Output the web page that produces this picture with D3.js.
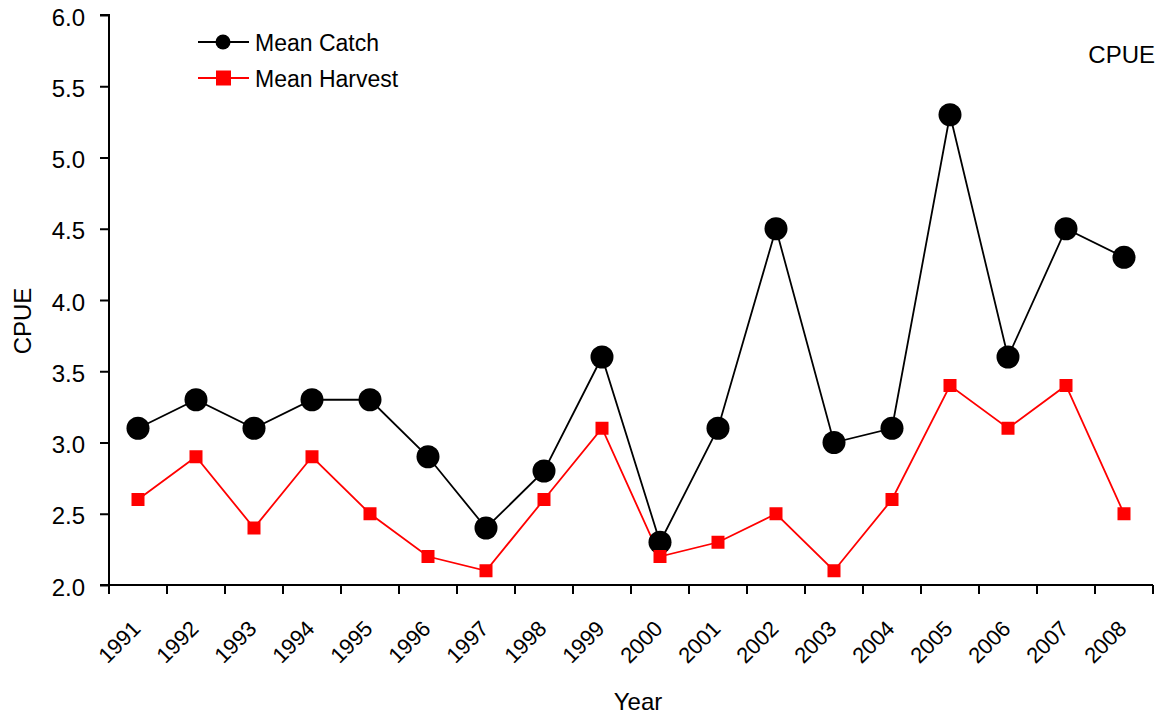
<!DOCTYPE html>
<html><head><meta charset="utf-8">
<script src="https://cdn.jsdelivr.net/npm/d3@7"></script>
<style>body{margin:0;background:#fff}text{font-family:"Liberation Sans",Arial,sans-serif;fill:#000}</style>
</head><body><svg id="c" width="1163" height="715"></svg>
<script>
const years = ["1991","1992","1993","1994","1995","1996","1997","1998","1999","2000","2001","2002","2003","2004","2005","2006","2007","2008"];
const meanCatch = [3.1,3.3,3.1,3.3,3.3,2.9,2.4,2.8,3.6,2.3,3.1,4.5,3.0,3.1,5.3,3.6,4.5,4.3];
const meanHarvest = [2.6,2.9,2.4,2.9,2.5,2.2,2.1,2.6,3.1,2.2,2.3,2.5,2.1,2.6,3.4,3.1,3.4,2.5];
const yTicks = [2.0,2.5,3.0,3.5,4.0,4.5,5.0,5.5,6.0];

const svg = d3.select("#c");
const L=109, R=1153, T=15, B=585;
const x = d3.scaleBand().domain(years).range([L,R]);
const y = d3.scaleLinear().domain([2,6]).range([B,T]);
const cx = d => x(d)+x.bandwidth()/2;

// y axis
const ya = svg.append("g").attr("transform",`translate(${L},0)`)
  .call(d3.axisLeft(y).tickValues(yTicks).tickFormat(d3.format(".1f")).tickSize(9).tickPadding(15));
ya.select(".domain").attr("stroke","#000").attr("stroke-width",2).attr("d",`M-9,${T}H0V${B}H-9`);
ya.selectAll(".tick line").attr("stroke","#000").attr("stroke-width",2);
ya.selectAll(".tick text").style("font-size","24px").attr("font-family",null).attr("dy","0.42em");

// x axis
const xa = svg.append("g").attr("transform",`translate(0,${B})`);
xa.append("line").attr("x1",L-9).attr("x2",R).attr("stroke","#000").attr("stroke-width",2);
const edges = years.map(d=>x(d)).concat([R]);
xa.selectAll("line.t").data(edges).join("line").attr("class","t")
  .attr("x1",d=>d).attr("x2",d=>d).attr("y1",0).attr("y2",9).attr("stroke","#000").attr("stroke-width",2);
xa.selectAll("text").data(years).join("text")
  .attr("transform",d=>`translate(${cx(d)+4},${45}) rotate(-45)`)
  .attr("text-anchor","end").style("font-size","22px").text(d=>d);

// lines
const line = d3.line().x((v,i)=>cx(years[i])).y(v=>y(v));
svg.append("path").datum(meanCatch).attr("d",line).attr("fill","none").attr("stroke","#000").attr("stroke-width",1.8);
svg.append("path").datum(meanHarvest).attr("d",line).attr("fill","none").attr("stroke","#ff0000").attr("stroke-width",1.8);
svg.selectAll("circle.c").data(meanCatch).join("circle").attr("class","c")
  .attr("cx",(v,i)=>cx(years[i])).attr("cy",v=>y(v)).attr("r",11.5).attr("fill","#000");
svg.selectAll("rect.h").data(meanHarvest).join("rect").attr("class","h")
  .attr("x",(v,i)=>cx(years[i])-6.5).attr("y",v=>y(v)-6.5).attr("width",13).attr("height",13).attr("fill","#ff0000");

// legend
const lg = svg.append("g");
lg.append("line").attr("x1",198).attr("x2",249).attr("y1",42).attr("y2",42).attr("stroke","#000").attr("stroke-width",1.8);
lg.append("circle").attr("cx",223).attr("cy",42).attr("r",7.5).attr("fill","#000");
lg.append("text").attr("x",255).attr("y",51).style("font-size","23px").text("Mean Catch");
lg.append("line").attr("x1",198).attr("x2",249).attr("y1",78).attr("y2",78).attr("stroke","#ff0000").attr("stroke-width",1.8);
lg.append("rect").attr("x",216).attr("y",70.5).attr("width",15).attr("height",15).attr("fill","#ff0000");
lg.append("text").attr("x",255).attr("y",87).style("font-size","23px").text("Mean Harvest");

// titles
svg.append("text").attr("x",1155).attr("y",63).attr("text-anchor","end").style("font-size","24px").text("CPUE");
svg.append("text").attr("x",638).attr("y",710).attr("text-anchor","middle").style("font-size","24px").text("Year");
svg.append("text").attr("transform","translate(31,321) rotate(-90)").attr("text-anchor","middle").style("font-size","24px").text("CPUE");
</script></body></html>
